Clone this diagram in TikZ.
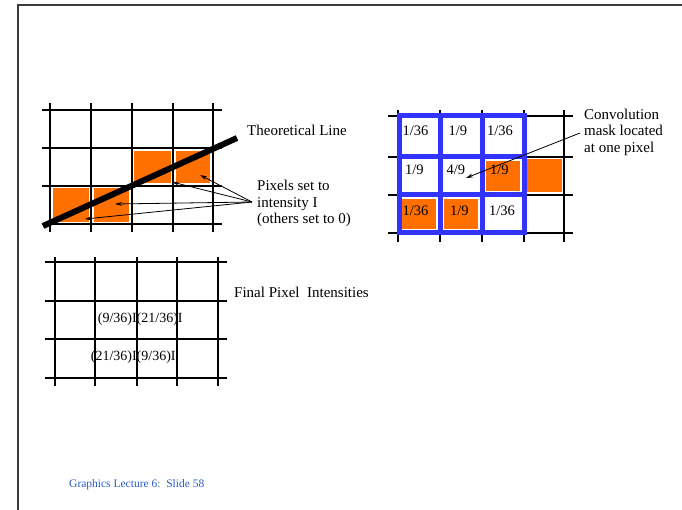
\documentclass[tikz,border=0pt]{standalone}
\usepackage{fontspec}
\setmainfont{Liberation Serif}
\usetikzlibrary{arrows.meta}
\definecolor{pxorange}{RGB}{255,112,0}
\definecolor{maskblue}{RGB}{51,51,255}
\definecolor{footblue}{RGB}{40,90,200}
\definecolor{framegray}{RGB}{60,60,60}
\tikzset{
  gridline/.style={line width=2pt,black},
  lit/.style={fill=pxorange},
  maskline/.style={line width=5pt,maskblue},
  label/.style={inner sep=0pt,font=\fontsize{15}{16.5}\selectfont,align=left},
  cellnum/.style={inner sep=0pt,anchor=west,font=\fontsize{14.5}{16}\selectfont},
  finalnum/.style={inner sep=0pt,font=\fontsize{14}{16}\selectfont},
  pointer/.style={line width=0.8pt,-{Stealth[length=7pt,width=4pt]}},
}
\begin{document}
\begin{tikzpicture}[x=1pt,y=-1pt]
\useasboundingbox (0,0) rectangle (682,510);
% slide frame
\draw[framegray,line width=1.5pt] (18,510) -- (18,5) -- (682,5);

% ---------- Grid 1 ----------
\fill[lit] (52.5,188.2) rectangle (88.5,221.8);
\fill[lit] (93.5,188.2) rectangle (129.2,221.8);
\fill[lit] (134.2,150.8) rectangle (170.5,183.2);
\fill[lit] (175.5,150.8) rectangle (210.2,183.2);
\foreach \x in {50,91,131.7,173,212.7} \draw[gridline] (\x,103) -- (\x,232);
\foreach \y in {110,148.3,185.7,224.3} \draw[gridline] (42,\y) -- (222,\y);
\coordinate (lineA) at (43,226);
\coordinate (lineB) at (237,138);
\draw[line width=6pt] (lineA) -- (lineB);
\node[label,anchor=west] (theo) at (247,130) {Theoretical Line};
\node[label,anchor=west] (pixset) at (257,203.5) {Pixels set to\\intensity I\\(others set to 0)};
\coordinate (src) at (252,202);
\coordinate (t1) at (172,182);
\coordinate (t2) at (200,175);
\coordinate (t3) at (115,204);
\coordinate (t4) at (85,219);
\foreach \t in {t1,t2,t3,t4} \draw[pointer] (src) -- (\t);

% ---------- Grid 2 ----------
\fill[lit] (402,199) rectangle (436,228.7);
\fill[lit] (444,199) rectangle (477.7,228.7);
\fill[lit] (485.7,160.7) rectangle (520,191);
\fill[lit] (526.5,159.2) rectangle (562,192.5);
\foreach \x in {398,440,481.7,524,564.3} \draw[gridline] (\x,110) -- (\x,242);
\foreach \y in {115.7,156.7,195,232.7} \draw[gridline] (388,\y) -- (573,\y);
\foreach \x in {399,440.7,482.5,524} \draw[maskline] (\x,113.2) -- (\x,235.2);
\foreach \y in {115.7,156.7,195,232.7} \draw[maskline] (396.5,\y) -- (526.5,\y);
\node[cellnum] (m11) at (402.5,131) {1/36};
\node[cellnum] (m12) at (448.5,131) {1/9};
\node[cellnum] (m13) at (487,131) {1/36};
\node[cellnum] (m21) at (405,170) {1/9};
\node[cellnum] (m22) at (446.5,170) {4/9};
\node[cellnum] (m23) at (490,170) {1/9};
\node[cellnum] (m31) at (402.5,211) {1/36};
\node[cellnum] (m32) at (450,211) {1/9};
\node[cellnum] (m33) at (489,211) {1/36};
\node[label,anchor=west] (conv) at (584,132) {Convolution\\mask located\\at one pixel};
\coordinate (csrc) at (580,133);
\coordinate (ctgt) at (466,178);
\draw[pointer] (csrc) -- (ctgt);

% ---------- Grid 3 ----------
\foreach \x in {55,95,136.7,177.3,218.3} \draw[gridline] (\x,257) -- (\x,386);
\foreach \y in {261.7,301,339.3,378.3} \draw[gridline] (45,\y) -- (227,\y);
\node[finalnum,anchor=east] (f11) at (137,319) {(9/36)I};
\node[finalnum,anchor=west] (f12) at (136.5,319) {(21/36)I};
\node[finalnum,anchor=east] (f21) at (137,357.5) {(21/36)I};
\node[finalnum,anchor=west] (f22) at (136.5,357.5) {(9/36)I};
\node[label,anchor=west] (final) at (234,292) {Final Pixel\ \ Intensities};

% footer
\node[inner sep=0pt,anchor=west,text=footblue,font=\fontsize{11.5}{13}\selectfont] (foot) at (69,485) {Graphics Lecture 6:\ \ Slide 58};
\end{tikzpicture}
\end{document}
